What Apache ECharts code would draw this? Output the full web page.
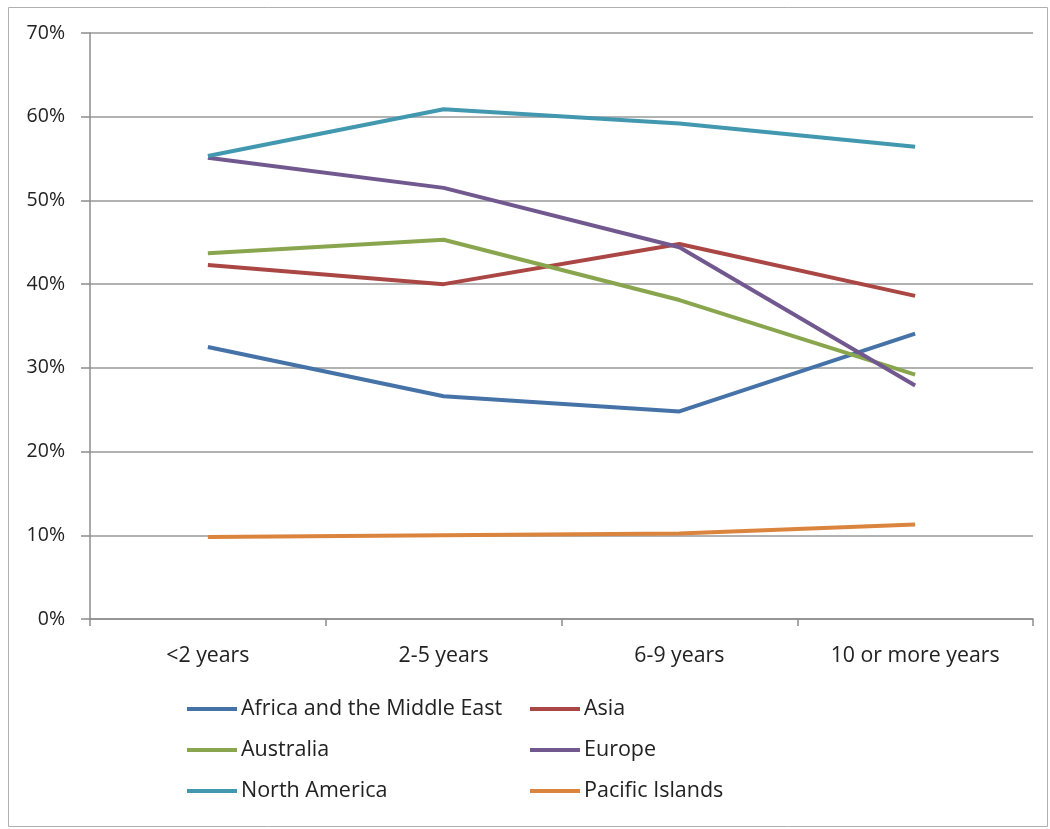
<!DOCTYPE html>
<html><head><meta charset="utf-8">
<script src="https://cdn.jsdelivr.net/npm/echarts@6/dist/echarts.min.js"></script>
<style>html,body{margin:0;padding:0;background:#fff}#c{width:1050px;height:829px}</style>
</head><body><div id="c"></div>
<script>
const categories = ['<2 years', '2-5 years', '6-9 years', '10 or more years'];
const africa = [32.5, 26.6, 24.8, 34.1];
const asia = [42.3, 40.0, 44.8, 38.6];
const australia = [43.7, 45.3, 38.1, 29.2];
const europe = [55.1, 51.5, 44.4, 27.9];
const northAmerica = [55.3, 60.9, 59.2, 56.4];
const pacific = [9.8, 10.0, 10.2, 11.3];
const seriesNames = ['Africa and the Middle East', 'Asia', 'Australia', 'Europe', 'North America', 'Pacific Islands'];
const seriesData = [africa, asia, australia, europe, northAmerica, pacific];
const colors = ['#4572A7', '#AA4643', '#89A54E', '#71588F', '#4198AF', '#DB843D'];

const font = 'Open Sans, Liberation Sans, sans-serif';
const chart = echarts.init(document.getElementById('c'), null, {renderer: 'canvas'});
const legendCommon = {
  orient: 'vertical', itemWidth: 50, itemHeight: 4, itemGap: 19,
  icon: 'rect',
  textStyle: {fontFamily: font, fontSize: 21.5, color: '#222', padding: [0, 0, 0, -1]},
  selectedMode: false
};
chart.setOption({
  animation: false,
  color: colors,
  graphic: [{type: 'rect', shape: {x: 8.5, y: 7.5, width: 1039, height: 819}, style: {fill: 'none', stroke: '#b0b0b0', lineWidth: 1}}],
  grid: {left: 90, right: 17, top: 33, bottom: 210},
  legend: [
    Object.assign({left: 187, top: 698, padding: 0, data: [seriesNames[0], seriesNames[2], seriesNames[4]]}, legendCommon),
    Object.assign({left: 530, top: 698, padding: 0, data: [seriesNames[1], seriesNames[3], seriesNames[5]]}, legendCommon)
  ],
  xAxis: {
    type: 'category', data: categories, boundaryGap: true,
    axisLine: {lineStyle: {color: '#8c8c8c', width: 1.5}},
    axisTick: {show: true, length: 7, lineStyle: {color: '#8c8c8c', width: 1.5}},
    axisLabel: {fontFamily: font, fontSize: 21.3, color: '#222', margin: 26}
  },
  yAxis: {
    type: 'value', min: 0, max: 70, interval: 10,
    axisLine: {show: true, lineStyle: {color: '#8c8c8c', width: 1.5}},
    axisTick: {show: true, inside: false, length: 9, lineStyle: {color: '#8c8c8c', width: 1.5}},
    splitLine: {lineStyle: {color: '#999', width: 1.5}},
    axisLabel: {formatter: '{value}%', fontFamily: font, fontSize: 19.5, color: '#222', margin: 25}
  },
  series: seriesNames.map((n, i) => ({
    name: n, type: 'line', data: seriesData[i], symbol: 'none',
    lineStyle: {width: 4, color: colors[i]}, itemStyle: {color: colors[i]}
  }))
});
</script></body></html>
